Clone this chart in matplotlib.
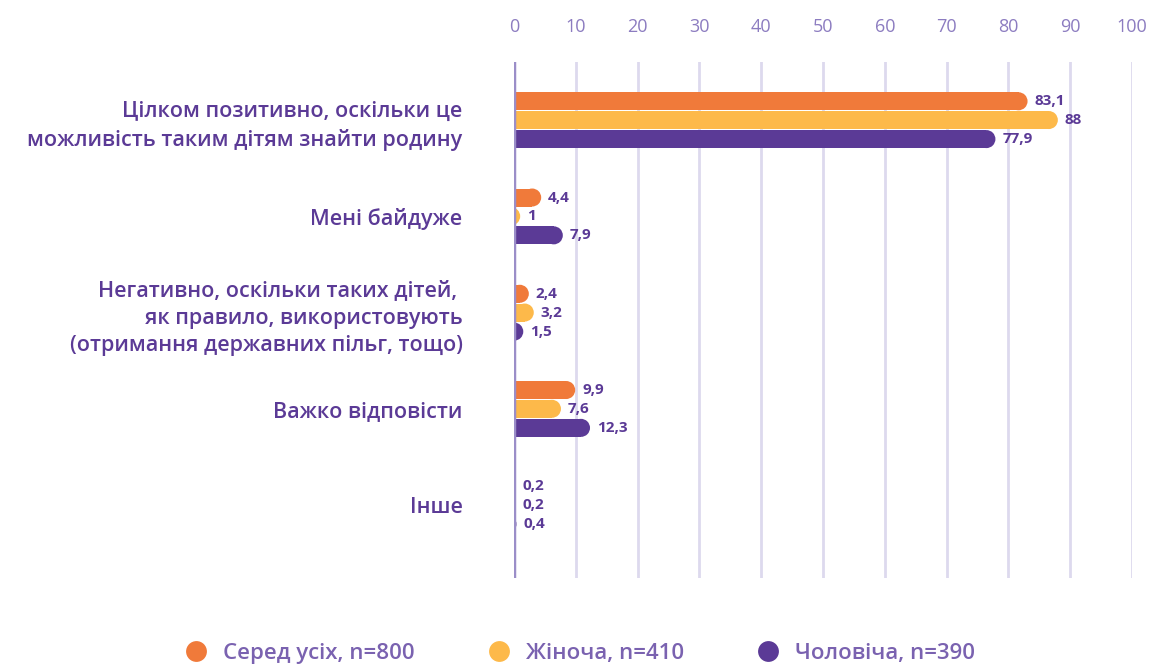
import matplotlib
matplotlib.use("Agg")
import matplotlib.pyplot as plt
from matplotlib.patches import Ellipse
from matplotlib.lines import Line2D
import numpy as np

categories = [
    "Цілком позитивно, оскільки це\nможливість таким дітям знайти родину",
    "Мені байдуже",
    "Негативно, оскільки таких дітей, \nяк правило, використовують\n(отримання державних пільг, тощо)",
    "Важко відповісти",
    "Інше",
]
series_names = ["Серед усіх, n=800", "Жіноча, n=410", "Чоловіча, n=390"]
all_vals = [83.1, 4.4, 2.4, 9.9, 0.2]
female_vals = [88, 1, 3.2, 7.6, 0.2]
male_vals = [77.9, 7.9, 1.5, 12.3, 0.4]
xticks = [0, 10, 20, 30, 40, 50, 60, 70, 80, 90, 100]

colors = ["#F07A3A", "#FDB94A", "#5B3A96"]
label_color = "#5B3A96"
tick_color = "#8C7CC0"
legend_text_color = "#7A62B0"

plt.rcParams['font.family'] = ['Open Sans', 'DejaVu Sans']

W, H = 1149, 664
fig = plt.figure(figsize=(W / 100, H / 100), dpi=100)
ax_left, ax_right, ax_top, ax_bot = 514, 1132, 62, 578
ax = fig.add_axes([ax_left / W, 1 - ax_bot / H, (ax_right - ax_left) / W, (ax_bot - ax_top) / H])

ylim_top, ylim_bot = -0.603, 4.758
ax.set_xlim(0, 100)
ax.set_ylim(ylim_bot, ylim_top)

px_per_x = (ax_right - ax_left) / 100.0
px_per_y = (ax_bot - ax_top) / (ylim_bot - ylim_top)
bar_px = 18.0
bar_h = bar_px / px_per_y
r_data = (bar_px / 2) / px_per_x
offsets = [-0.195, 0.0, 0.198]

series = [all_vals, female_vals, male_vals]
y = np.arange(len(categories))
for si, vals in enumerate(series):
    for ci, v in enumerate(vals):
        yy = y[ci] + offsets[si]
        body = max(v - r_data, 0)
        ax.barh(yy, body, height=bar_h, left=0, color=colors[si], zorder=3, linewidth=0)
        cap = Ellipse((v - r_data, yy), width=2 * r_data, height=bar_h, color=colors[si],
                      zorder=3, linewidth=0)
        cap.set_clip_path(ax.patch)
        ax.add_patch(cap)
        lab = f"{v:g}".replace(".", ",")
        ax.annotate(lab, (v, yy), xytext=(5, 0), textcoords="offset points",
                    ha="left", va="center", fontsize=11, fontweight="bold",
                    color=label_color, zorder=5)

ax.set_xticks(xticks)
ax.xaxis.tick_top()
ax.tick_params(axis="x", length=0, pad=19, labelsize=13, labelcolor=tick_color)
ax.grid(axis="x", color="#DDD9EE", linewidth=2, zorder=0)
ax.axvline(0, color="#9B8EC8", linewidth=2.5, zorder=4)
ax.set_yticks(y)
ax.set_yticklabels(categories, fontsize=15.5, fontweight="semibold", color=label_color,
                   linespacing=1.4)
ax.tick_params(axis="y", length=0, pad=37)
for s in ax.spines.values():
    s.set_visible(False)

handles = [Line2D([], [], marker="o", linestyle="", markersize=15, markerfacecolor=c,
                  markeredgewidth=0) for c in colors]
leg = fig.legend(handles, series_names, loc="center", bbox_to_anchor=(0.5, 1 - 653 / H),
                 ncol=3, frameon=False, fontsize=16, handletextpad=0.2, columnspacing=2.8)
for t in leg.get_texts():
    t.set_color(legend_text_color)
    t.set_fontweight("semibold")

fig.savefig("out.png", dpi=100)
